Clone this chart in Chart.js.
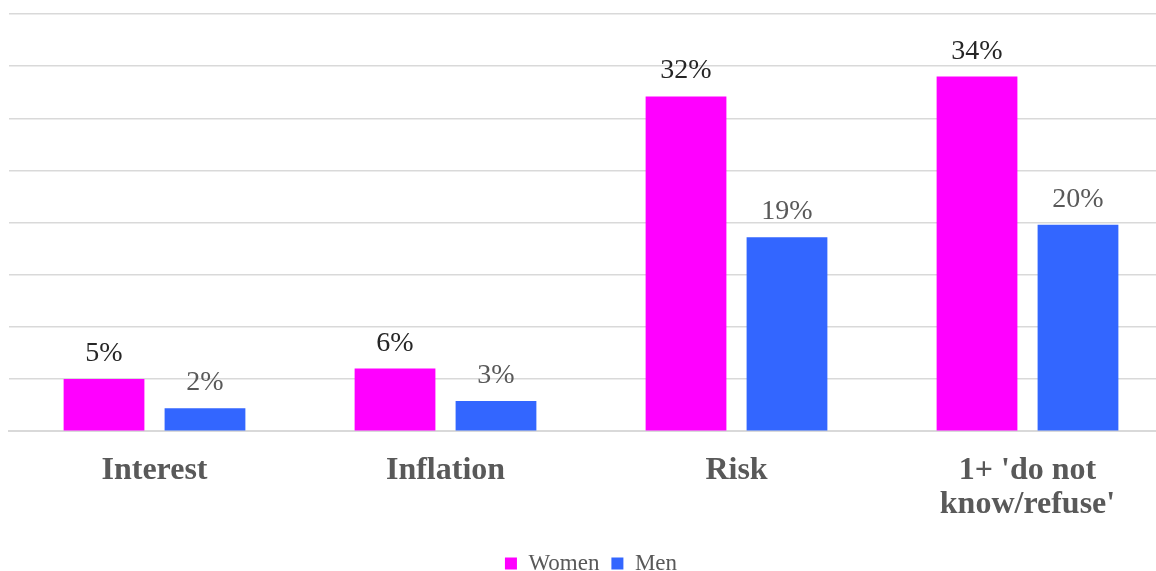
<!DOCTYPE html>
<html>
<head>
<meta charset="utf-8">
<script src="https://cdn.jsdelivr.net/npm/chart.js@4.4.1/dist/chart.umd.min.js"></script>
<style>
  body { margin: 0; background: #fff; }
  #marco { width: 1156px; height: 571px; overflow: hidden; }
  #wrap { width: 1173px; height: 585px; }
</style>
</head>
<body>
<div id="marco"><div id="wrap"><canvas id="grafico"></canvas></div></div>
<script>
var categorias = ['Interest', 'Inflation', 'Risk', ["1+ 'do not", "know/refuse'"]];
var mujeres = [5.0, 6.0, 32.1, 34.0];
var hombres = [2.2, 2.9, 18.6, 19.8];
var etiquetasMujeres = ['5%', '6%', '32%', '34%'];
var etiquetasHombres = ['2%', '3%', '19%', '20%'];

// dibuja los porcentajes encima de cada barra
var valoresArriba = {
  id: 'valoresArriba',
  afterDatasetsDraw: function (chart) {
    var ctx = chart.ctx;
    ctx.save();
    ctx.font = '28px "Liberation Serif", "Times New Roman", serif';
    ctx.textAlign = 'center';
    ctx.textBaseline = 'alphabetic';
    chart.data.datasets.forEach(function (ds, i) {
      var meta = chart.getDatasetMeta(i);
      ctx.fillStyle = ds.colorTexto;
      meta.data.forEach(function (bar, j) {
        ctx.fillText(ds.textos[j], bar.x, bar.y - 18);
      });
    });
    ctx.restore();
  }
};

var ctx = document.getElementById('grafico');
new Chart(ctx, {
  type: 'bar',
  plugins: [valoresArriba],
  data: {
    labels: categorias,
    datasets: [{
      label: 'Women',
      data: mujeres,
      textos: etiquetasMujeres,
      colorTexto: '#262626',
      backgroundColor: '#FF00FF',
      categoryPercentage: 0.694,
      barPercentage: 0.8
    }, {
      label: 'Men',
      data: hombres,
      textos: etiquetasHombres,
      colorTexto: '#595959',
      backgroundColor: '#3366FF',
      categoryPercentage: 0.694,
      barPercentage: 0.8
    }]
  },
  options: {
    responsive: true,
    maintainAspectRatio: false,
    animation: false,
    layout: { padding: { top: 14, left: 9, right: 0, bottom: 0 } },
    scales: {
      x: {
        grid: { display: false, drawTicks: false },
        border: { color: '#d9d9d9', width: 2 },
        afterFit: function (scale) { scale.height -= 5; },
        ticks: {
          color: '#595959',
          padding: 23,
          maxRotation: 0,
          font: { family: '"Liberation Serif", "Times New Roman", serif', size: 32, weight: 'bold', lineHeight: 1.06 }
        }
      },
      y: {
        min: 0,
        max: 40,
        ticks: { display: false, stepSize: 5 },
        border: { display: false },
        grid: { color: '#d9d9d9', lineWidth: 1.5, drawTicks: false }
      }
    },
    plugins: {
      tooltip: { enabled: false },
      legend: {
        position: 'bottom',
        labels: {
          color: '#595959',
          boxWidth: 12,
          boxHeight: 12,
          padding: 12,
          font: { family: '"Liberation Serif", "Times New Roman", serif', size: 23 }
        }
      }
    }
  }
});
</script>
</body>
</html>
